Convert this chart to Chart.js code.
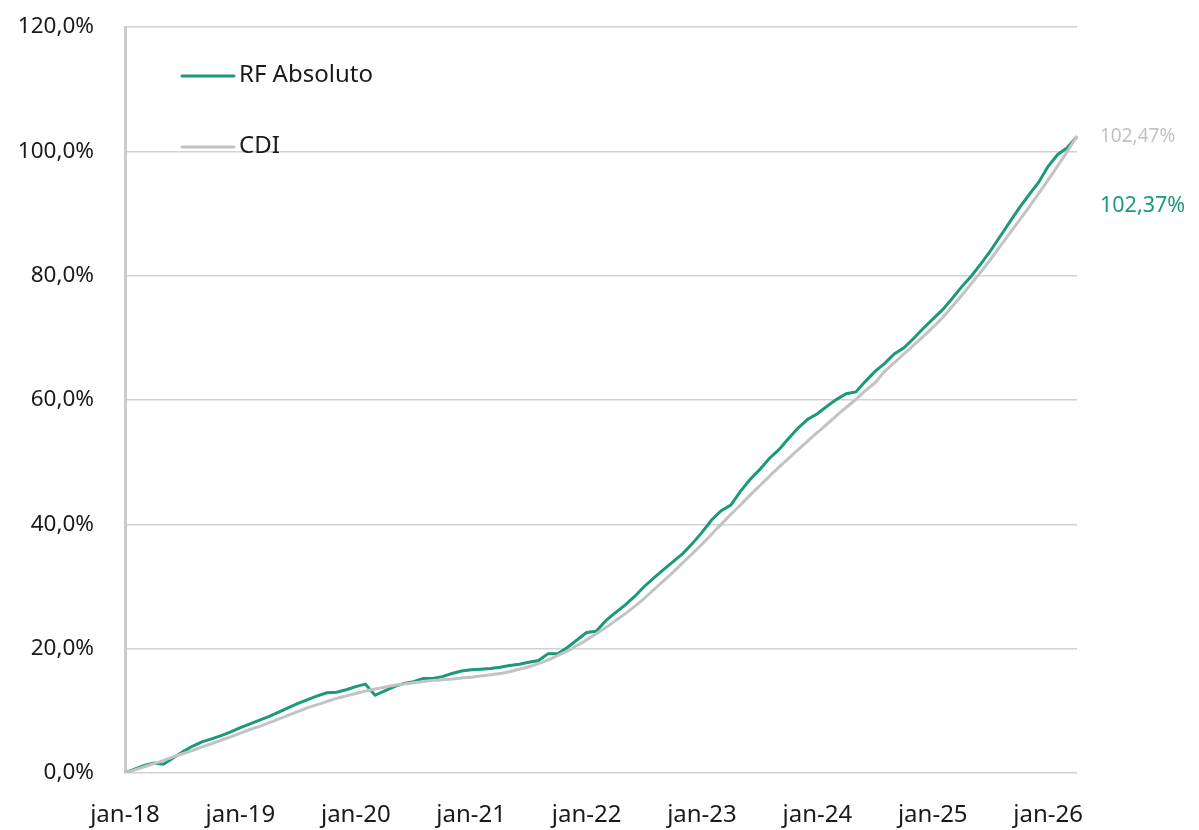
<!DOCTYPE html>
<html>
<head>
<meta charset="utf-8">
<script src="https://cdn.jsdelivr.net/npm/chart.js@4"></script>
<style>
  html, body { margin: 0; padding: 0; background: #fff; }
  #wrap { width: 1199px; height: 830px; position: relative; }
</style>
</head>
<body>
<div id="wrap"><canvas id="chart"></canvas></div>
<script>
// monthly points, jan-18 .. abr-26
const monthNames = ["jan", "fev", "mar", "abr", "mai", "jun", "jul", "ago", "set", "out", "nov", "dez"];
const startYear = 18;
const nPoints = 100;

const rfAbsoluto = [
  0, 0.6, 1.2, 1.6, 1.4, 2.4, 3.4, 4.3, 5.0, 5.5, 6.0, 6.6,
  7.3, 7.9, 8.5, 9.1, 9.8, 10.5, 11.2, 11.8, 12.4, 12.9, 13.0, 13.4,
  13.9, 14.3, 12.5, 13.2, 13.9, 14.4, 14.7, 15.2, 15.2, 15.5, 16.0, 16.4,
  16.6, 16.7, 16.8, 17.0, 17.3, 17.5, 17.8, 18.1, 19.2, 19.2, 20.2, 21.4,
  22.6, 22.8, 24.5, 25.8, 27.0, 28.4, 30.0, 31.4, 32.7, 34.0, 35.3, 36.9,
  38.7, 40.7, 42.2, 43.1, 45.3, 47.2, 48.8, 50.6, 52.0, 53.8, 55.5, 56.9,
  57.8, 59.0, 60.1, 61.0, 61.3, 63.0, 64.6, 65.9, 67.4, 68.4, 69.9, 71.5,
  73.0, 74.5, 76.3, 78.2, 79.9, 81.9, 84.0, 86.3, 88.6, 90.9, 93.0, 95.0,
  97.6, 99.5, 100.6, 102.37
];

const cdi = [
  0, 0.5, 1.0, 1.5, 2.0, 2.6, 3.1, 3.6, 4.2, 4.7, 5.3, 5.8,
  6.4, 7.0, 7.5, 8.1, 8.7, 9.3, 9.9, 10.5, 11.0, 11.5, 12.0, 12.4,
  12.8, 13.2, 13.5, 13.8, 14.1, 14.3, 14.5, 14.7, 14.9, 15.0, 15.1, 15.3,
  15.4, 15.6, 15.8, 16.0, 16.3, 16.7, 17.1, 17.6, 18.2, 18.9, 19.6, 20.5,
  21.4, 22.4, 23.4, 24.5, 25.6, 26.8, 28.1, 29.5, 30.9, 32.3, 33.8, 35.3,
  36.8, 38.4, 40.0, 41.6, 43.1, 44.7, 46.2, 47.7, 49.2, 50.6, 52.0, 53.4,
  54.8, 56.1, 57.5, 58.8, 60.1, 61.5, 62.8, 64.6, 66.0, 67.4, 68.8, 70.2,
  71.7, 73.2, 75.0, 76.8, 78.7, 80.6, 82.6, 84.7, 86.8, 88.9, 91.0, 93.2,
  95.4, 97.7, 100.0, 102.47
];

const labels = [];
for (let i = 0; i < nPoints; i++) {
  labels.push(monthNames[i % 12] + "-" + (startYear + Math.floor(i / 12)));
}

const green = "#1b9a7a";
const gray = "#c3c3c3";
const fontFamily = "'Noto Sans', 'Open Sans', sans-serif";

function pct(v, digits) {
  return v.toFixed(digits).replace(".", ",") + "%";
}

// legend inside the plot, top-left
const innerLegend = {
  id: "innerLegend",
  afterDraw(chart) {
    const ctx = chart.ctx;
    const a = chart.chartArea;
    const items = [
      { text: "RF Absoluto", color: green, y: a.top + 49 },
      { text: "CDI", color: gray, y: a.top + 120 }
    ];
    ctx.save();
    ctx.lineWidth = 3;
    ctx.lineCap = "round";
    ctx.font = "24px " + fontFamily;
    ctx.textBaseline = "middle";
    items.forEach(it => {
      ctx.strokeStyle = it.color;
      ctx.beginPath();
      ctx.moveTo(a.left + 57, it.y);
      ctx.lineTo(a.left + 109, it.y);
      ctx.stroke();
      ctx.fillStyle = "#1a1a1a";
      ctx.fillText(it.text, a.left + 114, it.y - 1);
    });
    ctx.restore();
  }
};

// final values written at the right of the lines
const endLabels = {
  id: "endLabels",
  afterDraw(chart) {
    const ctx = chart.ctx;
    const a = chart.chartArea;
    const y = chart.scales.y;
    const yCdi = y.getPixelForValue(cdi[cdi.length - 1]);
    ctx.save();
    ctx.textBaseline = "middle";
    ctx.textAlign = "left";
    ctx.font = "19px " + fontFamily;
    ctx.fillStyle = gray;
    ctx.fillText(pct(cdi[cdi.length - 1], 2), a.right + 23, yCdi + 1);
    ctx.font = "21.5px " + fontFamily;
    ctx.fillStyle = green;
    ctx.fillText(pct(rfAbsoluto[rfAbsoluto.length - 1], 2), a.right + 23, yCdi + 70);
    ctx.restore();
  }
};

new Chart(document.getElementById("chart"), {
  type: "line",
  data: {
    labels: labels,
    datasets: [
      {
        label: "RF Absoluto",
        data: rfAbsoluto,
        borderColor: green,
        borderWidth: 3,
        pointRadius: 0,
        tension: 0,
        order: 1
      },
      {
        label: "CDI",
        data: cdi,
        borderColor: gray,
        borderWidth: 3,
        pointRadius: 0,
        tension: 0.2,
        order: 0
      }
    ]
  },
  options: {
    responsive: true,
    maintainAspectRatio: false,
    animation: false,
    layout: { padding: { top: 27, right: 122, left: 0, bottom: 0 } },
    plugins: {
      legend: { display: false },
      tooltip: { enabled: false }
    },
    scales: {
      x: {
        offset: false,
        grid: { display: false, drawTicks: false },
        border: { display: false },
        ticks: {
          autoSkip: false,
          maxRotation: 0,
          padding: 28,
          color: "#1a1a1a",
          font: { family: fontFamily, size: 24 },
          callback: function(val, idx) {
            return idx % 12 === 0 ? this.getLabelForValue(val) : "";
          }
        },
        afterFit(scale) { scale.height = 57; }
      },
      y: {
        min: 0,
        max: 120,
        grid: { color: "#d2d2d2", lineWidth: 1.5, drawTicks: false },
        border: { display: true, color: "#cbcbcb", width: 3 },
        ticks: {
          stepSize: 20,
          padding: 31,
          color: "#1a1a1a",
          font: { family: fontFamily, size: 22.5 },
          callback: v => pct(v, 1)
        },
        afterFit(scale) {
          scale.width = 125;
          scale.paddingTop = 0;
          scale.paddingBottom = 0;
        }
      }
    }
  },
  plugins: [innerLegend, endLabels]
});
</script>
</body>
</html>
